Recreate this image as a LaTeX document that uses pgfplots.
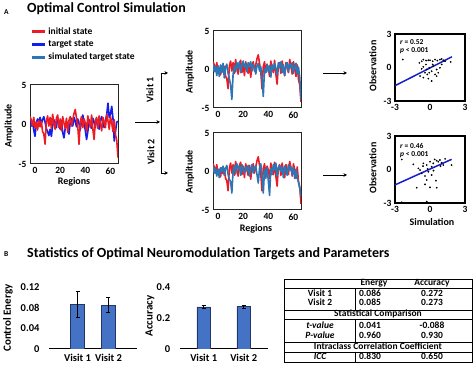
\documentclass[border=0pt]{standalone}
\usepackage{fontspec}
\setmainfont{Carlito}
\usepackage{pgfplots}
\pgfplotsset{compat=1.18}
\usepackage{pgfplotstable}
\usetikzlibrary{arrows.meta}
\definecolor{cred}{RGB}{235,28,36}
\definecolor{cblue}{RGB}{18,30,235}
\definecolor{csteel}{RGB}{46,117,182}
\definecolor{cbar}{RGB}{68,114,196}
\definecolor{cbardraw}{RGB}{35,55,100}
\definecolor{cline}{RGB}{20,30,205}

\pgfplotstableread{
x red blue simtop simbot
-4 1.0 0.6 0.7 0.6
-3 0.6 -0.2 -0.3 -0.2
-2 -0.2 0.4 0.4 0.5
-1 0.9 -0.7 -0.8 -0.6
0 -0.4 -1.5 0.5 0.3
1 0.3 0.2 -0.9 -0.8
2 -0.7 0.7 0.6 0.5
3 0.5 0.3 -0.4 0.0
4 -0.3 0.9 0.8 0.7
5 0.4 0.1 -1.1 -0.5
6 -0.9 0.6 0.3 0.4
7 -1.2 1.0 0.7 0.8
8 -2.5 0.3 -0.5 -0.4
9 0.4 -0.5 -1.2 -1.0
10 1.1 -0.9 -2.0 -1.3
11 -0.2 -1.4 -3.9 -2.8
12 0.9 -0.6 -0.6 0.1
13 -0.5 -1.5 0.5 0.8
14 1.3 -0.2 -0.3 -0.3
15 0.2 0.6 0.9 1.0
16 -0.6 0.1 0.2 0.4
17 0.8 -0.4 1.0 0.7
18 1.2 0.9 -0.4 -0.5
19 -0.4 0.3 0.6 0.9
20 0.7 -0.6 1.1 0.2
21 -0.8 0.5 0.3 -0.2
22 1.0 -1.0 0.8 0.6
23 0.2 -1.7 -0.3 0.1
24 -0.5 -0.5 0.9 0.8
25 0.8 0.4 0.4 -0.6
26 -1.0 -0.3 1.0 0.4
27 0.5 -1.2 -0.2 0.9
28 1.0 0.3 0.7 -0.2
29 -0.2 0.8 0.3 0.5
30 0.6 -0.2 -0.6 0.7
31 1.4 0.9 0.5 -0.4
32 1.9 0.4 0.8 -1.5
33 0.8 -0.3 -0.2 0.4
34 -0.3 0.7 0.4 1.0
35 -2.5 0.1 -1.2 -0.5
36 0.4 -0.7 -3.5 -2.8
37 1.0 0.5 0.1 0.3
38 -0.4 1.2 -0.4 -0.9
39 0.7 0.4 0.6 0.5
40 0.2 -0.8 -0.3 -1.2
41 -0.9 -1.9 0.5 -3.1
42 1.1 -0.9 -1.0 0.4
43 0.3 0.6 0.6 -0.4
44 -0.4 0.2 0.0 0.9
45 1.2 -0.5 0.8 0.2
46 -0.6 0.8 0.2 1.1
47 -1.9 0.3 -0.7 -0.6
48 0.5 -0.4 0.9 0.5
49 0.9 0.7 0.3 0.8
50 -0.5 0.2 1.0 0.0
51 1.1 -0.6 -0.4 0.6
52 0.1 0.5 0.6 -0.8
53 -0.8 1.0 -0.8 0.7
54 0.9 0.3 0.5 0.3
55 0.3 -0.4 0.9 -0.5
56 -0.4 0.5 -0.3 0.9
57 1.3 1.2 0.7 0.2
58 0.5 2.7 0.2 0.6
59 -0.6 0.9 0.9 -0.4
60 1.0 1.3 -0.5 0.5
61 0.2 2.3 0.4 -0.9
62 -0.9 0.8 0.8 0.3
63 0.6 -2.1 -0.6 -0.7
64 -1.3 -0.9 0.3 -1.4
65 -2.0 0.3 -1.0 -2.2
66 -4.2 0.4 -3.9 -3.2
}\tsdata

\pgfplotstableread{
x y
-2.33 0.71
-0.91 0.41
-0.71 0.56
-0.57 0.71
-0.34 0.62
-0.14 0.65
0.00 0.65
0.23 0.56
0.43 0.71
0.63 0.62
0.85 0.71
1.00 0.77
1.14 0.65
1.28 0.56
1.77 0.50
-0.71 -0.12
-0.57 0.06
-0.28 -0.18
-0.06 -0.03
0.14 -0.33
0.28 0.12
0.57 -0.18
0.85 -0.03
-0.43 -0.47
-0.23 -0.62
-0.06 -0.47
0.43 -0.62
0.71 -0.47
-0.85 -0.77
-0.57 -0.91
-0.14 -1.00
0.14 -1.21
0.57 -0.77
-0.34 0.27
0.23 0.27
1.00 0.27
}\scA

\pgfplotstableread{
x y
-2.42 0.90
-1.43 0.46
-1.00 0.10
-0.85 -0.05
-0.57 0.55
-0.28 0.40
0.00 0.70
0.14 0.25
0.28 0.55
0.57 0.79
0.71 0.70
0.85 0.85
1.00 0.61
1.14 0.40
1.85 0.40
-1.14 -1.63
-0.43 -1.33
0.00 -1.60
0.57 -1.63
-0.28 -0.94
0.51 -1.00
-0.71 -0.34
-0.14 -0.20
0.14 -0.49
-0.43 -0.58
-2.42 -2.93
-0.28 -2.88
-0.60 0.30
0.40 0.90
1.30 0.95
0.90 0.30
-0.20 0.05
0.30 -0.10
}\scB

\pgfplotsset{
  tsax/.style={scale only axis, width=88pt, xmin=-4, xmax=66, ymin=-5, ymax=5,
    xtick={0,20,40,60}, xticklabels={0,20,40,60},
    ytick={-5,0,5}, yticklabels={-5,0,5},
    major tick length=0pt, axis line style={line width=1pt, black!85},
    ticklabel style={font=\fontsize{9.5}{10}\selectfont},
    every axis plot/.append style={line width=1.6pt, line join=round, mark=none}},
  scax/.style={scale only axis, width=70pt, height=67pt, xmin=-3, xmax=3, ymin=-3, ymax=3,
    xtick={-3,0,3}, xticklabels={-3,0,3}, ytick={-3,0,3}, yticklabels={-3,0,3},
    major tick length=0pt, axis line style={line width=1.1pt},
    ticklabel style={font=\fontsize{9.5}{10}\selectfont}},
  barax/.style={scale only axis, width=88pt, height=62pt, ymin=0,
    axis lines*=left, y axis line style={draw=none}, x axis line style={line width=1pt},
    major tick length=0pt, xtick={0,1}, xticklabels={Visit 1,Visit 2},
    ticklabel style={font=\fontsize{10.5}{12}\selectfont},
    xticklabel style={yshift=-4pt, inner sep=1pt}, yticklabel style={xshift=-6pt}},
  barplot/.style={ybar, bar width=13.5pt, fill=cbar, draw=cbardraw, line width=0.6pt,
    error bars/.cd, y dir=both, y explicit,
    error bar style={black, line width=0.8pt},
    error mark options={black, line width=0.8pt, mark size=2pt, rotate=90}}
}

\begin{document}
\bfseries
\begin{tikzpicture}[x=1pt,y=1pt]
\path[use as bounding box] (0,0) rectangle (474,369);

% titles
\node[anchor=base west, font=\fontsize{7.5}{8}\selectfont, inner sep=0] at (4,354) {A};
\node[anchor=base west, font=\fontsize{14}{16}\selectfont, inner sep=0] at (27,356) {Optimal Control Simulation};
\node[anchor=base west, font=\fontsize{7.5}{8}\selectfont, inner sep=0] at (4,112) {B};
\node[anchor=base west, font=\fontsize{14}{16}\selectfont, inner sep=0] at (27,111.5) {Statistics of Optimal Neuromodulation Targets and Parameters};

% left time series
\begin{axis}[tsax, height=79pt, at={(30pt,205pt)}, anchor=south west,
  legend style={at={(0,1.27)}, anchor=south west, draw=none, fill=none, inner sep=0pt,
    font=\fontsize{9.5}{10}\selectfont, row sep=1pt, legend cell align=left},
  legend image code/.code={\draw[#1, line width=3.2pt] (0pt,0pt) -- (13pt,0pt);}]
\addlegendimage{cred}\addlegendentry{initial state}
\addlegendimage{cblue}\addlegendentry{target state}
\addlegendimage{csteel}\addlegendentry{simulated target state}
\addplot[cblue] table[x=x, y=blue] {\tsdata};
\addplot[cred] table[x=x, y=red] {\tsdata};
\end{axis}

% middle top
\begin{axis}[tsax, height=77pt, at={(213pt,261pt)}, anchor=south west]
\addplot[cred] table[x=x, y=red] {\tsdata};
\addplot[csteel] table[x=x, y=simtop] {\tsdata};
\end{axis}

% middle bottom
\begin{axis}[tsax, height=77pt, at={(213pt,159pt)}, anchor=south west]
\addplot[cred] table[x=x, y=red] {\tsdata};
\addplot[csteel] table[x=x, y=simbot] {\tsdata};
\end{axis}

% scatter top
\begin{axis}[scax, at={(395pt,268pt)}, anchor=south west]
\addplot[only marks, mark=*, mark size=0.65pt, black] table[x=x, y=y] {\scA};
\addplot[cline, line width=1.5pt, mark=none] coordinates {(-3,-1.63) (1.88,0.96)};
\end{axis}

% scatter bottom
\begin{axis}[scax, at={(395pt,166pt)}, anchor=south west]
\addplot[only marks, mark=*, mark size=0.65pt, black] table[x=x, y=y] {\scB};
\addplot[cline, line width=1.5pt, mark=none] coordinates {(-3,-1.38) (1.85,0.91)};
\end{axis}

% bar chart 1
\begin{axis}[barax, at={(49pt,20pt)}, anchor=south west, xmin=-0.92, xmax=1.92, ymax=0.12,
  ytick={0,0.04,0.08,0.12}, yticklabels={0,0.04,0.08,0.12}]
\addplot[barplot] coordinates {(0,0.086) +- (0,0.025) (1,0.085) +- (0,0.014)};
\end{axis}

% bar chart 2
\begin{axis}[barax, at={(179.7pt,20pt)}, anchor=south west, xmin=-0.6, xmax=1.6, ymax=0.4,
  ytick={0,0.2,0.4}, yticklabels={0,0.2,0.4}]
\addplot[barplot] coordinates {(0,0.272) +- (0,0.012) (1,0.273) +- (0,0.011)};
\end{axis}

% axis labels
\begin{scope}[every node/.style={font=\fontsize{10}{11}\selectfont, inner sep=0}]
\node[rotate=90] at (9,243) {Amplitude};
\node at (74,187) {Regions};
\node[rotate=90] at (190,297) {Amplitude};
\node[rotate=90] at (190,197) {Amplitude};
\node at (256,140) {Regions};
\node[rotate=90] at (373,303) {Observation};
\node[rotate=90] at (373,201) {Observation};
\node at (432,147) {Simulation};
\node[rotate=90] at (150,279) {Visit 1};
\node[rotate=90] at (151,217) {Visit 2};
\end{scope}
\node[rotate=90, font=\fontsize{11}{12}\selectfont, inner sep=0] at (8,51) {Control Energy};
\node[rotate=90, font=\fontsize{11}{12}\selectfont, inner sep=0] at (150,53) {Accuracy};

% correlation texts
\begin{scope}[every node/.style={font=\fontsize{7.5}{8}\selectfont, inner sep=0, anchor=west}]
\node at (400,327) {\textit{r} = 0.52};
\node at (400,318) {\textit{p} < 0.001};
\node at (400,223) {\textit{r} = 0.46};
\node at (400,214) {\textit{p} < 0.001};
\end{scope}

% arrows
\begin{scope}[line width=0.9pt, >={Stealth[length=3.5pt,width=3.5pt]}]
\draw[->] (135,247) -- (160,247);
\draw (161,296) -- (161,196);
\draw[->] (160.55,296) -- (168,296);
\draw[->] (160.55,196) -- (168,196);
\draw[->] (323,296) -- (347,296);
\draw[->] (323,194) -- (347,194);
\end{scope}

% table
\begin{scope}[line width=0.7pt]
\draw (284,7) rectangle (472,90);
\draw (284,81) -- (472,81);
\draw (284,59) -- (472,59);
\draw (284,50) -- (472,50);
\draw (284,27) -- (472,27);
\draw (284,17) -- (472,17);
\draw (355,81) -- (355,59);
\draw (355,50) -- (355,27);
\draw (355,17) -- (355,7);
\end{scope}
\begin{scope}[every node/.style={font=\fontsize{9.5}{10}\selectfont, inner sep=0, text height=6.2pt, text depth=1.8pt}]
\node at (374,85.5) {Energy};
\node at (432,85.5) {Accuracy};
\node at (320,75) {Visit 1};
\node at (370,75) {0.086};
\node at (432,75) {0.272};
\node at (320,66) {Visit 2};
\node at (370,66) {0.085};
\node at (432,66) {0.273};
\node at (378,54.5) {Statistical Comparison};
\node at (320,43) {\itshape t-value};
\node at (370,43) {0.041};
\node at (432,43) {-0.088};
\node at (320,33) {\itshape P-value};
\node at (370,33) {0.960};
\node at (432,33) {0.930};
\node at (378,22) {Intraclass Correlation Coefficient};
\node at (320,12) {\itshape ICC};
\node at (370,12) {0.830};
\node at (432,12) {0.650};
\end{scope}
\end{tikzpicture}
\end{document}
